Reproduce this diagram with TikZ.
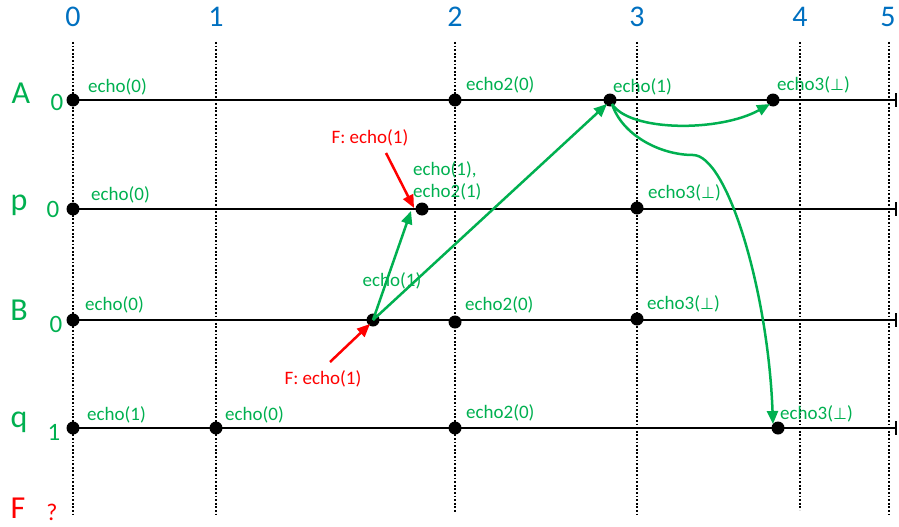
\documentclass[tikz,border=0pt]{standalone}
\usepackage{fontspec}
\setmainfont{Carlito}
\newfontfamily\symfont{DejaVu Sans}
\usetikzlibrary{arrows.meta}
\definecolor{ogreen}{RGB}{0,176,80}
\definecolor{oblue}{RGB}{0,112,192}
\definecolor{ored}{RGB}{255,0,0}
\newcommand{\perpsym}{{\symfont\fontsize{16}{18}\selectfont ⊥}}
\begin{document}
\begin{tikzpicture}[x=1pt,y=-1pt,
  gridline/.style={line width=1.8pt, dash pattern=on 1.8pt off 1.8pt},
  tline/.style={line width=2.4pt, -{Bar[width=14pt,line width=2.4pt]}},
  dot/.style={circle, fill=black, inner sep=0pt, minimum size=13pt},
  lbl/.style={text=ogreen, font=\fontsize{19}{22}\selectfont, anchor=west, inner sep=0pt},
  rlbl/.style={text=ored, font=\fontsize{19}{22}\selectfont, inner sep=0pt},
  topnum/.style={text=oblue, font=\fontsize{30}{32}\selectfont, anchor=base, inner sep=0pt},
  bigletter/.style={font=\fontsize{32}{34}\selectfont, anchor=base, inner sep=0pt},
  initval/.style={font=\fontsize{25}{28}\selectfont, anchor=base, inner sep=0pt},
  garrow/.style={draw=ogreen, line width=2.5pt, -{Triangle[length=13pt,width=11pt]}},
  rarrow/.style={draw=ored, line width=2.5pt, -{Triangle[length=13pt,width=11pt]}}]
\useasboundingbox (0,0) rectangle (899,527);

% top numbers
\node[topnum] (n0) at (73,27) {0};
\node[topnum] (n1) at (216,27) {1};
\node[topnum] (n2) at (455,27) {2};
\node[topnum] (n3) at (637,27) {3};
\node[topnum] (n4) at (800,27) {4};
\node[topnum] (n5) at (888,27) {5};

% grid lines
\foreach \i/\x/\yb in {0/73/515,1/216/515,2/455/513,3/637/515,4/800/510,5/889/515}{
  \coordinate (gt\i) at (\x,42);
  \coordinate (gb\i) at (\x,\yb);
  \draw[gridline] (gt\i) -- (gb\i);
}

% process names and initial values
\node[bigletter, text=ogreen] (LA) at (21,103) {A};
\node[bigletter, text=ogreen] (Lp) at (19,210) {p};
\node[bigletter, text=ogreen] (LB) at (19,320) {B};
\node[bigletter, text=ogreen] (Lq) at (19,427) {q};
\node[bigletter, text=ored] (LF) at (18,518) {F};
\node[initval, text=ogreen] (vA) at (57,110) {0};
\node[initval, text=ogreen] (vp) at (53,217) {0};
\node[initval, text=ogreen] (vB) at (56,332) {0};
\node[initval, text=ogreen] (vq) at (54,440) {1};
\node[initval, text=ored, font=\fontsize{24}{26}\selectfont] (vF) at (52,520) {?};

% dots
\node[dot] (a0) at (73,100) {};
\node[dot] (a2) at (455,100) {};
\node[dot] (a3) at (610,100) {};
\node[dot] (a4) at (773,100) {};
\node[dot] (p0) at (73,209) {};
\node[dot] (p2) at (422,209) {};
\node[dot] (p3) at (637,208) {};
\node[dot] (b0) at (73,320) {};
\node[dot] (b1) at (373,320) {};
\node[dot] (b2) at (455,322) {};
\node[dot] (b3) at (637,319) {};
\node[dot] (q0) at (73,428) {};
\node[dot] (q1) at (216,428) {};
\node[dot] (q2) at (455,428) {};
\node[dot] (q4) at (778,428) {};

% time lines
\coordinate (ea) at (897,100);
\coordinate (ep) at (897,209);
\coordinate (eb) at (897,320);
\coordinate (eq) at (897,428);
\draw[tline] (a0.center) -- (ea);
\draw[tline] (p0.center) -- (ep);
\draw[tline] (b0.center) -- (eb);
\draw[tline] (q0.center) -- (eq);

% green messages
\coordinate (tp2) at (411,211);
\coordinate (ta3) at (607,104);
\coordinate (ta4) at (770,104);
\coordinate (tq4) at (773,424);
\coordinate (sa3) at (612,104);
\coordinate (kink) at (693,155);
\draw[garrow] (b1.center) -- (tp2);
\draw[garrow] (b1.center) -- (ta3);
\draw[garrow] (sa3) .. controls (630,132) and (720,132) .. (ta4);
\draw[line width=2.5pt, draw=ogreen] (sa3) .. controls (622,135) and (660,155) .. (kink);
\draw[garrow] (kink) .. controls (727,155) and (768,290) .. (tq4);

% red annotations
\node[rlbl] (fp) at (370,138) {F: echo(1)};
\node[rlbl] (fb) at (323,379) {F: echo(1)};
\coordinate (fps) at (386,153);
\coordinate (fpt) at (414,208);
\coordinate (fbs) at (330,362);
\coordinate (fbt) at (370,324);
\draw[rarrow] (fps) -- (fpt);
\draw[rarrow] (fbs) -- (fbt);

% green labels
\node[lbl] (la0) at (88,87) {echo(0)};
\node[lbl] (la2) at (466,85) {echo2(0)};
\node[lbl] (la3) at (613,87) {echo(1)};
\node[lbl] (la4) at (777,85) {echo3(\perpsym)};
\node[lbl] (lp0) at (91,195) {echo(0)};
\node[lbl, align=left] (lp2) at (413,181) {echo(1),\\echo2(1)};
\node[lbl] (lp3) at (648,193) {echo3(\perpsym)};
\node[lbl] (lb0) at (85,305) {echo(0)};
\node[lbl, anchor=center] (lb1) at (392,281) {echo(1)};
\node[lbl] (lb2) at (465,305) {echo2(0)};
\node[lbl] (lb3) at (647,304) {echo3(\perpsym)};
\node[lbl] (lq0) at (87,415) {echo(1)};
\node[lbl] (lq1) at (225,415) {echo(0)};
\node[lbl] (lq2) at (466,413) {echo2(0)};
\node[lbl] (lq4) at (780,414) {echo3(\perpsym)};
\end{tikzpicture}
\end{document}
